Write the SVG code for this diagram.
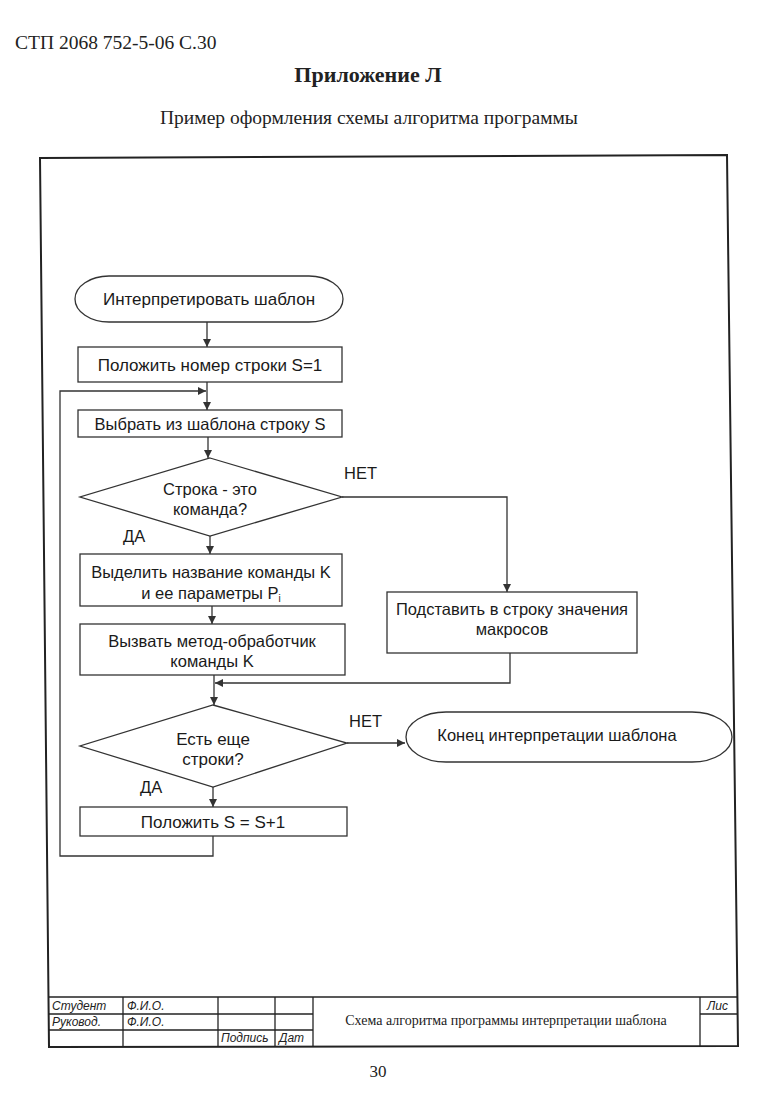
<svg xmlns="http://www.w3.org/2000/svg" width="780" height="1093" viewBox="0 0 780 1093">
<style>
.t{font-family:"Liberation Serif","Times New Roman",serif;fill:#222}
.f{font-family:"Liberation Sans",Arial,sans-serif;font-size:16.5px;fill:#1a1a1a}
.g{font-size:17px}
.s{fill:#fff;stroke:#333;stroke-width:1.3}
.c{fill:none;stroke:#333;stroke-width:1.3}
.fr{fill:none;stroke:#222;stroke-width:2}
.tb{fill:none;stroke:#222;stroke-width:1.3}
.i{font-family:"Liberation Sans",Arial,sans-serif;font-size:12px;font-style:italic;fill:#222}
</style>
<defs>
<marker id="a" markerWidth="10" markerHeight="10" refX="9" refY="5" orient="auto" markerUnits="userSpaceOnUse">
<path d="M1,1 L9,5 L1,9 Z" fill="#333"/>
</marker>
</defs>
<rect width="780" height="1093" fill="#fff"/>
<text class="t" x="15" y="49" font-size="19.5">СТП 2068 752-5-06 С.30</text>
<text class="t" x="368" y="82" font-size="22" font-weight="bold" text-anchor="middle">Приложение Л</text>
<text class="t" x="369" y="124" font-size="19.5" text-anchor="middle">Пример оформления схемы алгоритма программы</text>
<text class="t" x="378" y="1077" font-size="17" text-anchor="middle">30</text>

<g id="frame">
<polygon class="fr" points="40,158 727,155 738,1046 49,1047"/>
</g>

<g id="titleblock">
<line class="tb" x1="49" y1="997" x2="737" y2="997"/>
<line class="tb" x1="49" y1="1014" x2="313" y2="1014"/>
<line class="tb" x1="49" y1="1030" x2="313" y2="1030"/>
<line class="tb" x1="700" y1="1014" x2="737" y2="1014"/>
<line class="tb" x1="123" y1="997" x2="123" y2="1047"/>
<line class="tb" x1="218" y1="997" x2="218" y2="1047"/>
<line class="tb" x1="275" y1="997" x2="275" y2="1047"/>
<line class="tb" x1="313" y1="997" x2="313" y2="1047"/>
<line class="tb" x1="700" y1="997" x2="700" y2="1047"/>
<text class="i" x="52" y="1010">Студент</text>
<text class="i" x="127" y="1010">Ф.И.О.</text>
<text class="i" x="52" y="1026">Руковод.</text>
<text class="i" x="127" y="1026">Ф.И.О.</text>
<text class="i" x="221" y="1042">Подпись</text>
<text class="i" x="279" y="1042">Дат</text>
<text class="i" x="707" y="1010">Лис</text>
<text class="t" x="506" y="1025" font-size="14" text-anchor="middle">Схема алгоритма программы интерпретации шаблона</text>
</g>

<g id="connectors">
<line class="c" x1="207" y1="322" x2="207" y2="347" marker-end="url(#a)"/>
<line class="c" x1="207" y1="382" x2="207" y2="410" marker-end="url(#a)"/>
<line class="c" x1="208" y1="437" x2="208" y2="458" marker-end="url(#a)"/>
<polyline class="c" points="342,497 507,497 507,592" marker-end="url(#a)"/>
<line class="c" x1="210" y1="536" x2="210" y2="554" marker-end="url(#a)"/>
<line class="c" x1="212" y1="606" x2="212" y2="624" marker-end="url(#a)"/>
<line class="c" x1="214" y1="675" x2="214" y2="705" marker-end="url(#a)"/>
<polyline class="c" points="510,653 510,683 215,683" marker-end="url(#a)"/>
<line class="c" x1="347" y1="743" x2="405" y2="743" marker-end="url(#a)"/>
<line class="c" x1="213" y1="787" x2="213" y2="807" marker-end="url(#a)"/>
<polyline class="c" points="213,836 213,856 60,856 60,391 206,391" marker-end="url(#a)"/>
<text class="f" x="344" y="479">НЕТ</text>
<text class="f" x="123" y="542">ДА</text>
<text class="f" x="349" y="727">НЕТ</text>
<text class="f" x="140" y="793">ДА</text>
</g>

<g id="start">
<rect class="s" x="75" y="276" width="268" height="46" rx="34" ry="23"/>
<text class="f g" x="209" y="305" text-anchor="middle">Интерпретировать шаблон</text>
</g>
<g id="init">
<rect class="s" x="78" y="347" width="264" height="35"/>
<text class="f g" x="210" y="371" text-anchor="middle">Положить номер строки S=1</text>
</g>
<g id="select">
<rect class="s" x="78" y="410" width="264" height="27"/>
<text class="f" x="210" y="430" text-anchor="middle">Выбрать из шаблона строку S</text>
</g>
<g id="isCommand">
<polygon class="s" points="210,458 342,497 210,536 80,497"/>
<text class="f" x="210" y="495" text-anchor="middle">Строка - это</text>
<text class="f" x="210" y="515" text-anchor="middle">команда?</text>
</g>
<g id="extract">
<rect class="s" x="80" y="554" width="262" height="52"/>
<text class="f" x="211" y="578" text-anchor="middle">Выделить название команды K</text>
<text class="f" x="211" y="599" text-anchor="middle">и ее параметры P<tspan font-size="10" dy="3">i</tspan></text>
</g>
<g id="handler">
<rect class="s" x="80" y="624" width="265" height="51"/>
<text class="f" x="212" y="647" text-anchor="middle">Вызвать метод-обработчик</text>
<text class="f" x="212" y="667" text-anchor="middle">команды K</text>
</g>
<g id="macros">
<rect class="s" x="387" y="592" width="250" height="61"/>
<text class="f" x="512" y="615" text-anchor="middle">Подставить в строку значения</text>
<text class="f" x="512" y="635" text-anchor="middle">макросов</text>
</g>
<g id="moreLines">
<polygon class="s" points="213,705 347,743 213,787 80,746"/>
<text class="f g" x="213" y="745" text-anchor="middle">Есть еще</text>
<text class="f g" x="213" y="765" text-anchor="middle">строки?</text>
</g>
<g id="end">
<rect class="s" x="406" y="712" width="326" height="50" rx="40" ry="25"/>
<text class="f" x="557" y="741" font-size="18" text-anchor="middle">Конец интерпретации шаблона</text>
</g>
<g id="increment">
<rect class="s" x="80" y="807" width="267" height="29"/>
<text class="f g" x="213" y="828" text-anchor="middle">Положить S = S+1</text>
</g>
</svg>
